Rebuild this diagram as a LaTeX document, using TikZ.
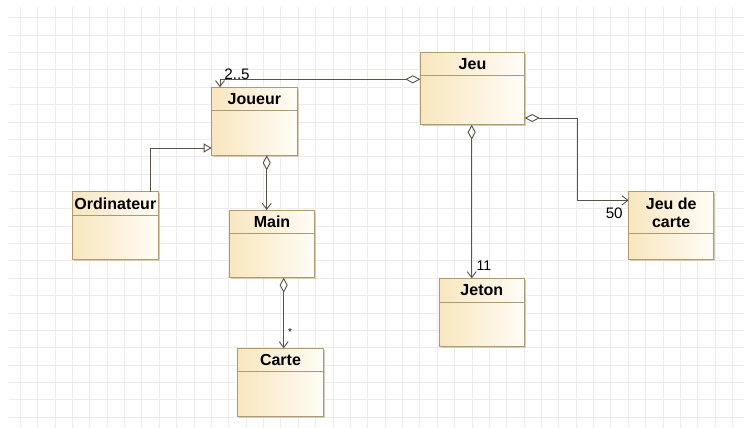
\documentclass[tikz,border=0pt]{standalone}
\usepackage{fontspec}
\setmainfont{Liberation Sans}
\usetikzlibrary{arrows.meta,calc}
\definecolor{gridc}{HTML}{ECECEC}
\definecolor{classL}{HTML}{F8E6BE}
\definecolor{classR}{HTML}{FFFDF7}
\definecolor{classB}{HTML}{AE9A72}
\definecolor{shadowc}{HTML}{D6CCB8}
\definecolor{linec}{HTML}{5A5244}
\tikzset{
  classbox/.style={draw=classB, line width=0.9pt, left color=classL, right color=classR, inner sep=0pt, outer sep=0pt},
  classsep/.style={draw=classB, line width=0.9pt},
  classtitle/.style={font=\bfseries\fontsize{16}{18.4}\selectfont, align=center, inner sep=0pt, text=black},
  mult/.style={font=\fontsize{15.2}{17}\selectfont, inner sep=0pt, text=black},
  conn/.style={draw=linec, line width=0.9pt},
  aggr/.style={{Diamond[open,length=15pt,width=8pt]}-{Straight Barb[length=6pt,width=9pt]}},
  inher/.style={-{Triangle[open,length=8pt,width=9pt]}}
}
\newcommand{\umlbox}[7]{%
  \fill[shadowc] (#2+1.5,#3+1.5) rectangle ++(#4,#5);
  \node[classbox, anchor=north west, minimum width=#4, minimum height=#5] (#1) at (#2,#3) {};
  \draw[classsep] ($(#1.north west)+(0,#6)$) -- ($(#1.north east)+(0,#6)$);
  \node[classtitle] (#1-title) at ($(#1.north)+(0,#6/2)$) {#7};
}
\begin{document}
\begin{tikzpicture}[x=1pt,y=-1pt]
\useasboundingbox (0,0) rectangle (744,428);
\fill[white] (0,0) rectangle (744,428);
% grid
\foreach \i in {0,...,41} \draw[gridc, line width=0.8pt] (20.3+17.37*\i,7) -- (20.3+17.37*\i,428);
\foreach \j in {0,...,23} \draw[gridc, line width=0.8pt] (9,17.7+17.37*\j) -- (744,17.7+17.37*\j);
% classes
\umlbox{joueur}{211.7}{87.3}{85.3}{68}{23}{Joueur}
\umlbox{jeu}{420.3}{52.7}{104.4}{72}{23}{Jeu}
\umlbox{ordinateur}{72.7}{191.7}{85.3}{67.6}{23.6}{Ordinateur}
\umlbox{main}{229.3}{210}{85.4}{67.7}{23.7}{Main}
\umlbox{carte}{237.7}{348.3}{85.6}{67.7}{22.7}{Carte}
\umlbox{jeton}{439.3}{278.3}{85}{68.4}{24}{Jeton}
\umlbox{jeudecarte}{628.7}{191.7}{85}{68}{41.6}{Jeu de\\carte}
% connectors
\draw[conn, aggr] ($(jeu.north west)+(0,26.6)$) -| ($(joueur.north west)+(8.3,0)$);
\node[mult] (m25) at (237,74) {2..5};
\draw[conn, inher] ($(ordinateur.north west)+(78,0)$) |- ($(joueur.south west)+(0,-7.3)$);
\coordinate (mtop) at ($(main.north west)+(37.4,0)$);
\draw[conn, aggr] (mtop |- joueur.south) -- (mtop);
\coordinate (ctop) at ($(carte.north west)+(46,0)$);
\draw[conn, aggr] (ctop |- main.south) -- (ctop);
\node[font=\fontsize{10}{12}\selectfont, inner sep=0pt] (mstar) at (290,332) {*};
\coordinate (jtop) at ($(jeton.north west)+(32.4,0)$);
\draw[conn, aggr] (jtop |- jeu.south) -- (jtop);
\node[mult, font=\fontsize{14}{16}\selectfont] (m11) at (483.8,266) {11};
\draw[conn, aggr] ($(jeu.north east)+(0,65.3)$) -- ++(52.3,0) |- ($(jeudecarte.north west)+(0,8.6)$);
\node[mult] (m50) at (614.2,213.5) {50};
\end{tikzpicture}
\end{document}
